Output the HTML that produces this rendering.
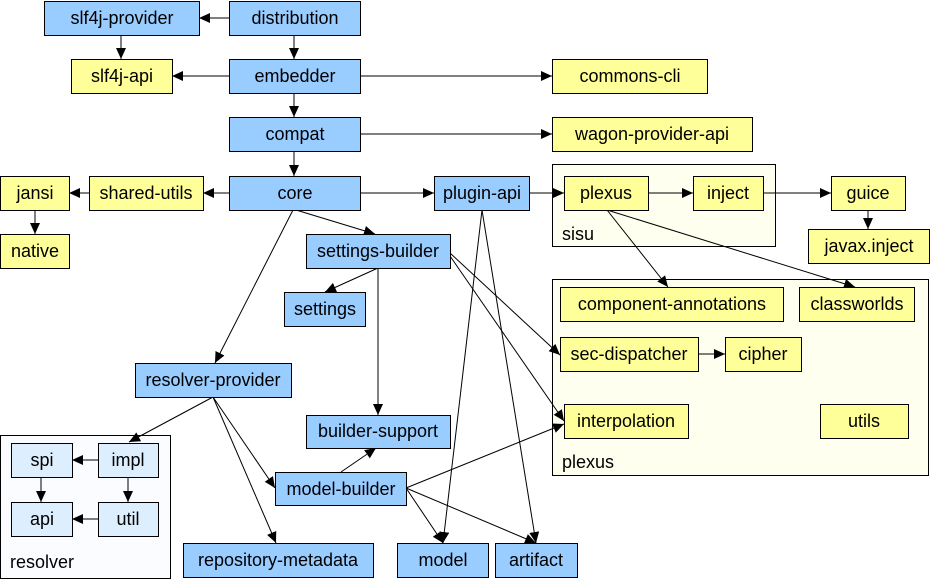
<!DOCTYPE html>
<html><head><meta charset="utf-8"><style>
html,body{margin:0;padding:0;background:#fff}
svg{display:block}
text{font-family:"Liberation Sans",sans-serif;font-size:18px;fill:#000}
.b{fill:#99ccff;stroke:#000;stroke-width:1}
.y{fill:#ffff99;stroke:#000;stroke-width:1}
.l{fill:#ddeeff;stroke:#000;stroke-width:1}
line{stroke:#000;stroke-width:1;marker-end:url(#a)}
</style></head><body>
<svg width="930" height="579" viewBox="0 0 930 579" xmlns="http://www.w3.org/2000/svg">
<defs><marker id="a" markerUnits="userSpaceOnUse" markerWidth="12" markerHeight="10" refX="11" refY="5" orient="auto"><path d="M0,0 L11,5 L0,10 z" fill="#000"/></marker></defs>
<!-- clusters -->
<rect x="552.5" y="164.5" width="223" height="82" fill="#fffff0" stroke="#000"/>
<text x="562" y="240">sisu</text>
<rect x="552.5" y="279.5" width="376" height="196" fill="#fffff0" stroke="#000"/>
<text x="562" y="468">plexus</text>
<rect x="0.5" y="435.5" width="170" height="143" fill="#fafcff" stroke="#000"/>
<text x="10" y="568">resolver</text>
<!-- edges -->
<line x1="229" y1="18" x2="199" y2="18"/>
<line x1="121" y1="35" x2="121" y2="59"/>
<line x1="294" y1="35" x2="294" y2="59"/>
<line x1="229" y1="76" x2="172" y2="76"/>
<line x1="360" y1="76" x2="552" y2="76"/>
<line x1="294" y1="93" x2="294" y2="117"/>
<line x1="360" y1="134" x2="552" y2="134"/>
<line x1="294" y1="151" x2="294" y2="176"/>
<line x1="229" y1="193" x2="203" y2="193"/>
<line x1="89" y1="193" x2="69" y2="193"/>
<line x1="35" y1="210" x2="35" y2="234"/>
<line x1="360" y1="193" x2="434" y2="193"/>
<line x1="529" y1="193" x2="564" y2="193"/>
<line x1="648" y1="193" x2="693" y2="193"/>
<line x1="763" y1="193" x2="831" y2="193"/>
<line x1="868" y1="210" x2="868" y2="229"/>
<line x1="296" y1="210" x2="375" y2="234"/>
<line x1="293" y1="210" x2="215" y2="363"/>
<line x1="378" y1="268" x2="325" y2="292"/>
<line x1="378" y1="268" x2="378" y2="415"/>
<line x1="450" y1="253" x2="560" y2="355"/>
<line x1="450" y1="256" x2="564" y2="421"/>
<line x1="482" y1="210" x2="443" y2="543"/>
<line x1="482" y1="210" x2="536" y2="543"/>
<line x1="607" y1="210" x2="668" y2="287"/>
<line x1="607" y1="210" x2="855" y2="287"/>
<line x1="698" y1="354" x2="725" y2="354"/>
<line x1="213" y1="397" x2="129" y2="442"/>
<line x1="213" y1="397" x2="275" y2="488"/>
<line x1="213" y1="397" x2="276" y2="543"/>
<line x1="341" y1="472" x2="376" y2="448"/>
<line x1="406" y1="488" x2="564" y2="424"/>
<line x1="406" y1="488" x2="443" y2="543"/>
<line x1="406" y1="488" x2="536" y2="543"/>
<line x1="98" y1="460" x2="72" y2="460"/>
<line x1="41" y1="477" x2="41" y2="502"/>
<line x1="128" y1="477" x2="128" y2="502"/>
<line x1="98" y1="519" x2="72" y2="519"/>
<!-- nodes -->
<g text-anchor="middle">
<rect class="b" x="44.5" y="1.5" width="155" height="34"/><text x="122" y="24">slf4j-provider</text>
<rect class="b" x="229.5" y="1.5" width="131" height="34"/><text x="295" y="24">distribution</text>
<rect class="y" x="71.5" y="59.5" width="101" height="34"/><text x="122" y="82">slf4j-api</text>
<rect class="b" x="229.5" y="59.5" width="131" height="34"/><text x="295" y="82">embedder</text>
<rect class="y" x="552.5" y="59.5" width="155" height="34"/><text x="630" y="82">commons-cli</text>
<rect class="b" x="229.5" y="117.5" width="131" height="34"/><text x="295" y="140">compat</text>
<rect class="y" x="552.5" y="117.5" width="200" height="34"/><text x="652" y="140">wagon-provider-api</text>
<rect class="y" x="0.5" y="176.5" width="69" height="34"/><text x="35" y="199">jansi</text>
<rect class="y" x="89.5" y="176.5" width="114" height="34"/><text x="146" y="199">shared-utils</text>
<rect class="b" x="229.5" y="176.5" width="131" height="34"/><text x="295" y="199">core</text>
<rect class="b" x="434.5" y="176.5" width="95" height="34"/><text x="482" y="199">plugin-api</text>
<rect class="y" x="564.5" y="176.5" width="84" height="34"/><text x="606" y="199">plexus</text>
<rect class="y" x="693.5" y="176.5" width="70" height="34"/><text x="728" y="199">inject</text>
<rect class="y" x="831.5" y="176.5" width="74" height="34"/><text x="868" y="199">guice</text>
<rect class="y" x="808.5" y="229.5" width="121" height="34"/><text x="869" y="252">javax.inject</text>
<rect class="y" x="0.5" y="234.5" width="69" height="34"/><text x="35" y="257">native</text>
<rect class="b" x="306.5" y="234.5" width="144" height="34"/><text x="378" y="257">settings-builder</text>
<rect class="b" x="284.5" y="292.5" width="81" height="34"/><text x="325" y="315">settings</text>
<rect class="y" x="560.5" y="287.5" width="223" height="34"/><text x="672" y="310">component-annotations</text>
<rect class="y" x="799.5" y="287.5" width="115" height="34"/><text x="857" y="310">classworlds</text>
<rect class="y" x="560.5" y="337.5" width="138" height="34"/><text x="629" y="360">sec-dispatcher</text>
<rect class="y" x="725.5" y="337.5" width="76" height="34"/><text x="763" y="360">cipher</text>
<rect class="y" x="564.5" y="404.5" width="124" height="34"/><text x="626" y="427">interpolation</text>
<rect class="y" x="820.5" y="404.5" width="88" height="34"/><text x="864" y="427">utils</text>
<rect class="b" x="135.5" y="363.5" width="156" height="34"/><text x="213" y="386">resolver-provider</text>
<rect class="b" x="306.5" y="415.5" width="144" height="33"/><text x="378" y="437">builder-support</text>
<rect class="l" x="11.5" y="443.5" width="61" height="34"/><text x="42" y="466">spi</text>
<rect class="l" x="98.5" y="443.5" width="60" height="34"/><text x="128" y="466">impl</text>
<rect class="l" x="11.5" y="502.5" width="61" height="34"/><text x="42" y="525">api</text>
<rect class="l" x="98.5" y="502.5" width="60" height="34"/><text x="128" y="525">util</text>
<rect class="b" x="275.5" y="472.5" width="131" height="33"/><text x="341" y="495">model-builder</text>
<rect class="b" x="183.5" y="543.5" width="190" height="34"/><text x="278" y="566">repository-metadata</text>
<rect class="b" x="397.5" y="543.5" width="91" height="34"/><text x="443" y="566">model</text>
<rect class="b" x="495.5" y="543.5" width="82" height="34"/><text x="536" y="566">artifact</text>
</g>
</svg>
</body></html>
